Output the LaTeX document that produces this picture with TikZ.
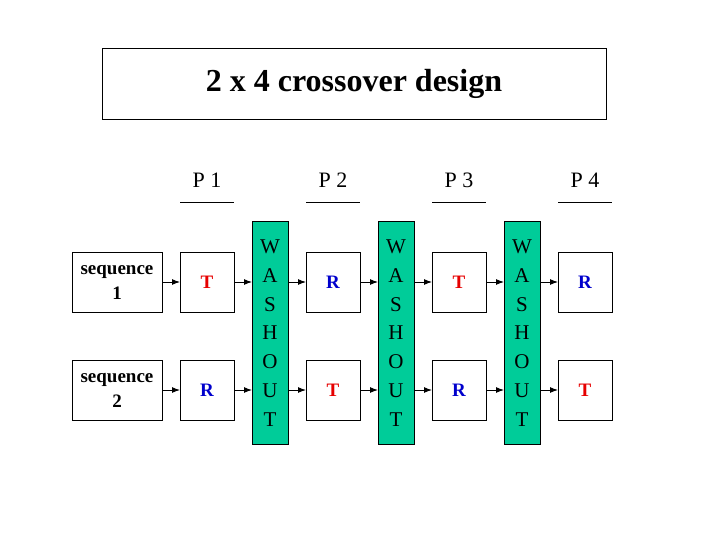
\documentclass[tikz,border=0pt]{standalone}
\usepackage{fontspec}
\setmainfont{Liberation Serif}
\usetikzlibrary{arrows.meta}

\definecolor{washgreen}{RGB}{0,204,153}
\definecolor{testred}{RGB}{230,0,0}
\definecolor{refblue}{RGB}{0,0,204}

\tikzset{
  trbox/.style={draw, line width=1pt, minimum width=54pt, minimum height=60pt,
    inner sep=0pt, outer sep=0pt, font=\fontsize{19}{21}\selectfont\bfseries},
  seqbox/.style={trbox, minimum width=90pt, align=center,
    font=\fontsize{19}{25}\selectfont\bfseries},
  washbox/.style={draw, line width=1pt, fill=washgreen, minimum width=36pt,
    minimum height=222pt, inner sep=0pt, outer sep=0pt, align=center,
    font=\fontsize{21}{28.8}\selectfont},
  plabel/.style={inner sep=0pt, font=\fontsize{22}{24}\selectfont},
  flow/.style={-{Latex[length=8pt,width=6pt]}, line width=1pt}
}

\begin{document}
\begin{tikzpicture}[x=1pt,y=1pt,yscale=-1]
\path[use as bounding box] (0,0) rectangle (720,540);

% Title
\node[draw, line width=1pt, minimum width=504pt, minimum height=71pt, inner sep=0pt,
  font=\fontsize{32}{34}\selectfont\bfseries] (title) at (354,84) {2 x 4 crossover design};

% Period labels
\node[plabel] (p1) at (207,180) {P 1};
\node[plabel] (p2) at (333,180) {P 2};
\node[plabel] (p3) at (459,180) {P 3};
\node[plabel] (p4) at (585,180) {P 4};
\draw[line width=1pt] (180,203) -- (234,203);
\draw[line width=1pt] (306,203) -- (360,203);
\draw[line width=1pt] (432,203) -- (486,203);
\draw[line width=1pt] (558,203) -- (612,203);

% Sequences
\node[seqbox] (seqa) at (117,282) {sequence\\1};
\node[seqbox] (seqb) at (117,390) {sequence\\2};

% Treatments
\node[trbox, text=testred] (a1) at (207,282) {T};
\node[trbox, text=refblue] (b1) at (207,390) {R};
\node[trbox, text=refblue] (a2) at (333,282) {R};
\node[trbox, text=testred] (b2) at (333,390) {T};
\node[trbox, text=testred] (a3) at (459,282) {T};
\node[trbox, text=refblue] (b3) at (459,390) {R};
\node[trbox, text=refblue] (a4) at (585,282) {R};
\node[trbox, text=testred] (b4) at (585,390) {T};

% Washout periods
\node[washbox] (w1) at (270,333) {W\\A\\S\\H\\O\\U\\T};
\node[washbox] (w2) at (396,333) {W\\A\\S\\H\\O\\U\\T};
\node[washbox] (w3) at (522,333) {W\\A\\S\\H\\O\\U\\T};

% Arrows
\draw[flow] (seqa) -- (a1);
\draw[flow] (seqb) -- (b1);
\draw[flow] (a1) -- (w1.west |- a1);
\draw[flow] (b1) -- (w1.west |- b1);
\draw[flow] (w1.east |- a2) -- (a2);
\draw[flow] (w1.east |- b2) -- (b2);
\draw[flow] (a2) -- (w2.west |- a2);
\draw[flow] (b2) -- (w2.west |- b2);
\draw[flow] (w2.east |- a3) -- (a3);
\draw[flow] (w2.east |- b3) -- (b3);
\draw[flow] (a3) -- (w3.west |- a3);
\draw[flow] (b3) -- (w3.west |- b3);
\draw[flow] (w3.east |- a4) -- (a4);
\draw[flow] (w3.east |- b4) -- (b4);

\end{tikzpicture}
\end{document}
